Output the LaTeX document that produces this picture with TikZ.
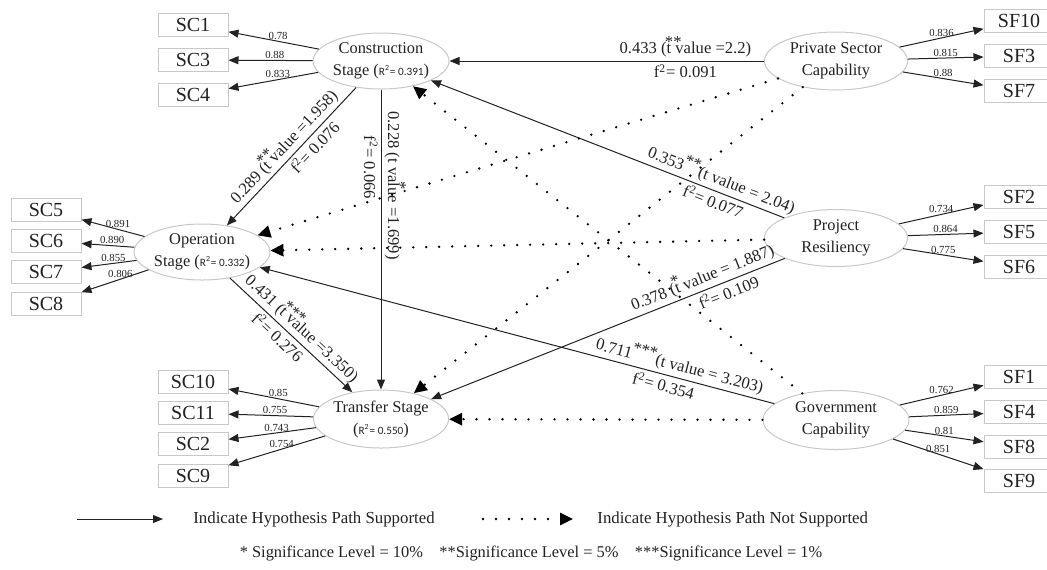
\documentclass[tikz,border=0pt]{standalone}
\usepackage{fontspec}
\setmainfont{Liberation Serif}
\newfontfamily\rfont{Carlito}
\usetikzlibrary{shapes.geometric,arrows.meta}

\definecolor{edgegray}{HTML}{C8C8C8}
\definecolor{ink}{HTML}{222222}

\newcommand{\sig}[1]{\rlap{\raisebox{.42em}{\kern-.1em#1}}}
\newcommand{\rsq}[1]{({\rfont\fontsize{5.6}{6}\selectfont R\textsuperscript{2}= #1})}

\tikzset{
  lv/.style={ellipse, draw=edgegray, line width=.5pt, fill=white, inner sep=0pt, align=center,
    font=\fontsize{8.2}{11}\selectfont, text=ink},
  ind/.style={rectangle, draw=edgegray, line width=.5pt, fill=white, minimum width=35pt,
    minimum height=11.5pt, inner sep=0pt, font=\fontsize{10}{12}\selectfont, text=ink},
  ld/.style={draw=ink, line width=.5pt, -{Triangle[length=5pt,width=4pt]}},
  ldl/.style={above, inner sep=.6pt, font=\fontsize{5.4}{6}\selectfont, text=ink},
  sup/.style={draw=ink, line width=.5pt, -{Triangle[length=5pt,width=4pt]}},
  nsup/.style={draw=black, line width=1.3pt, line cap=round, dash pattern=on 0pt off 6.5pt,
    -{Triangle[length=6.5pt,width=6pt]}},
  lbl/.style={font=\fontsize{8.3}{10}\selectfont, text=ink, inner sep=1.5pt},
  leg/.style={font=\fontsize{8.4}{10}\selectfont, text=ink, inner sep=0pt}
}

\begin{document}
\begin{tikzpicture}[x=0.5pt,y=-0.5pt]
\useasboundingbox (0,0) rectangle (1047,569);

\node[lv, minimum width=62pt, minimum height=28pt] (cs) at (381,61) {Construction\\Stage \rsq{0.391}};
\node[lv, minimum width=57pt, minimum height=28pt] (os) at (202,252) {Operation\\Stage \rsq{0.332}};
\node[lv, minimum width=62pt, minimum height=29pt] (ts) at (381,419) {Transfer Stage\\\rsq{0.550}};
\node[lv, minimum width=71.5pt, minimum height=29pt] (ps) at (836,61) {Private Sector\\Capability};
\node[lv, minimum width=71.5pt, minimum height=28.5pt] (pr) at (836,238) {Project\\Resiliency};
\node[lv, minimum width=73pt, minimum height=29.5pt] (gc) at (836,420) {Government\\Capability};

\node[ind] (sc1) at (193,25) {SC1};
\node[ind] (sc3) at (193,60) {SC3};
\node[ind] (sc4) at (193,95) {SC4};
\node[ind] (sc5) at (46,210) {SC5};
\node[ind] (sc6) at (46,241) {SC6};
\node[ind] (sc7) at (46,272) {SC7};
\node[ind] (sc8) at (46,304) {SC8};
\node[ind] (sc10) at (193,382) {SC10};
\node[ind] (sc11) at (193,413) {SC11};
\node[ind] (sc2) at (193,444) {SC2};
\node[ind] (sc9) at (193,476) {SC9};
\node[ind] (sf10) at (1019,21) {SF10};
\node[ind] (sf3) at (1019,56) {SF3};
\node[ind] (sf7) at (1019,91) {SF7};
\node[ind] (sf2) at (1019,197) {SF2};
\node[ind] (sf5) at (1019,232) {SF5};
\node[ind] (sf6) at (1019,267) {SF6};
\node[ind] (sf1) at (1019,377) {SF1};
\node[ind] (sf4) at (1019,412) {SF4};
\node[ind] (sf8) at (1019,447) {SF8};
\node[ind] (sf9) at (1019,481) {SF9};

\draw[ld] (cs) -- node[ldl, pos=.45] {0.78} (sc1);
\draw[ld] (cs) -- node[ldl, pos=.45] {0.88} (sc3);
\draw[ld] (cs) -- node[ldl, pos=.45] {0.833} (sc4);
\draw[ld] (os) -- node[ldl, pos=.42] {0.891} (sc5);
\draw[ld] (os) -- node[ldl, pos=.42] {0.890} (sc6);
\draw[ld] (os) -- node[ldl, pos=.42] {0.855} (sc7);
\draw[ld] (os) -- node[ldl, pos=.42] {0.806} (sc8);
\draw[ld] (ts) -- node[ldl, pos=.45] {0.85} (sc10);
\draw[ld] (ts) -- node[ldl, pos=.45] {0.755} (sc11);
\draw[ld] (ts) -- node[ldl, pos=.45] {0.743} (sc2);
\draw[ld] (ts) -- node[ldl, pos=.45] {0.754} (sc9);
\draw[ld] (ps) -- node[ldl, pos=.5] {0.836} (sf10);
\draw[ld] (ps) -- node[ldl, pos=.5] {0.815} (sf3);
\draw[ld] (ps) -- node[ldl, pos=.5] {0.88} (sf7);
\draw[ld] (pr) -- node[ldl, pos=.5] {0.734} (sf2);
\draw[ld] (pr) -- node[ldl, pos=.5] {0.864} (sf5);
\draw[ld] (pr) -- node[ldl, pos=.5] {0.775} (sf6);
\draw[ld] (gc) -- node[ldl, pos=.5] {0.762} (sf1);
\draw[ld] (gc) -- node[ldl, pos=.5] {0.859} (sf4);
\draw[ld] (gc) -- node[ldl, pos=.5] {0.81} (sf8);
\draw[ld] (gc) -- node[ldl, pos=.5] {0.851} (sf9);

\draw[sup] (ps) -- node[lbl, above, pos=.25] {0.433 (\sig{**}t value =2.2)} node[lbl, below, pos=.25] {f\textsuperscript{2}= 0.091} (cs);
\draw[sup] (cs) -- node[lbl, sloped, above, pos=.49] {0.289 (\sig{**}t value =1.958)} node[lbl, sloped, below, pos=.38] {f\textsuperscript{2}= 0.076} (os);
\draw[sup] (cs) -- node[lbl, rotate=-90, anchor=south, pos=.32] {0.228 (t va\sig{*}lue =1.699)} node[lbl, rotate=-90, anchor=north, pos=.26] {f\textsuperscript{2}= 0.066} (ts);
\draw[sup] (os) -- node[lbl, sloped, above, pos=.52] {0.431 (\sig{***}t value =3.350)} node[lbl, sloped, below, pos=.45] {f\textsuperscript{2}= 0.276} (ts);
\draw[sup] (pr) -- node[lbl, sloped, above, pos=.19] {0.353\raisebox{.35em}{**}(t value = 2.04)} node[lbl, sloped, below, pos=.19] {f\textsuperscript{2}= 0.077} (cs);
\draw[sup] (pr) -- node[lbl, sloped, above, pos=.22] {0.378 (\sig{*}t value = 1.887)} node[lbl, sloped, below, pos=.17] {f\textsuperscript{2}= 0.109} (ts);
\draw[sup] (gc) -- node[lbl, sloped, above, pos=.19] {0.711\raisebox{.35em}{***}(t value = 3.203)} node[lbl, sloped, below, pos=.21] {f\textsuperscript{2}= 0.354} (os);

\draw[nsup] (ps) -- (os);
\draw[nsup] (ps) -- (ts);
\draw[nsup] (pr) -- (os);
\draw[nsup] (gc) -- (cs);
\draw[nsup] (gc) -- (ts);

\coordinate (lga) at (77,519);
\coordinate (lgb) at (163,519);
\coordinate (lgc) at (483,519);
\coordinate (lgd) at (573,519);
\draw[sup] (lga) -- (lgb);
\draw[nsup] (lgc) -- (lgd);
\node[leg, anchor=west] (lgsup) at (193,519) {Indicate Hypothesis Path Supported};
\node[leg, anchor=west] (lgnot) at (597,519) {Indicate Hypothesis Path Not Supported};
\node[leg, font=\fontsize{8.2}{10}\selectfont] (lgsig) at (531,553) {* Significance Level = 10\%\quad **Significance Level = 5\%\quad ***Significance Level = 1\%};
\end{tikzpicture}
\end{document}
